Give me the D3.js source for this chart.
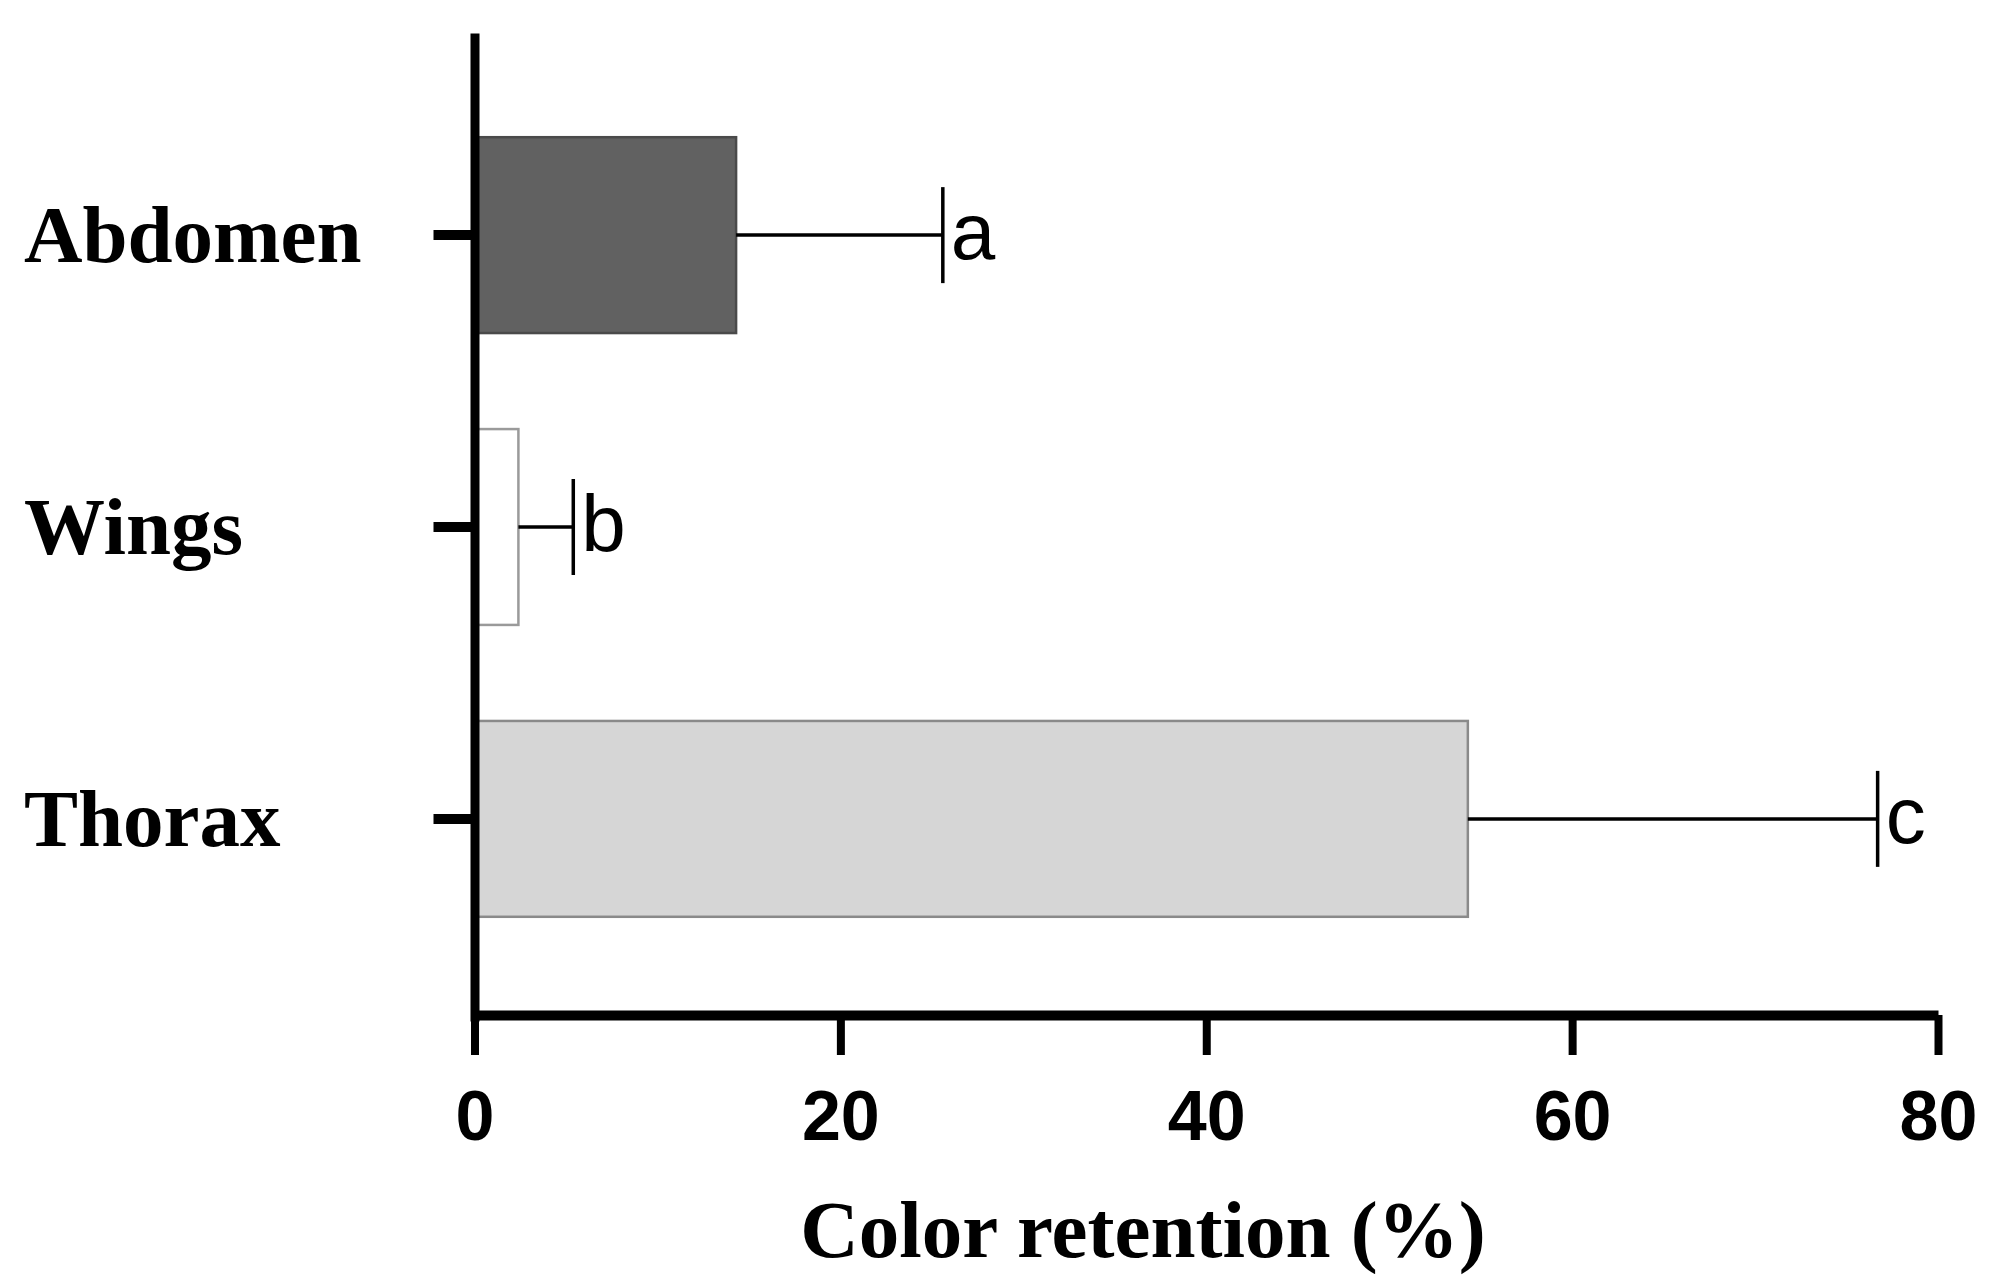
<!DOCTYPE html>
<html>
<head>
<meta charset="utf-8">
<script src="https://cdn.jsdelivr.net/npm/d3@7"></script>
<style>
  body { margin: 0; background: #fff; }
  svg { display: block; }
</style>
</head>
<body>
<svg id="chart"></svg>
<script>
var width = 1998, height = 1286;

// data
var categories = ["Abdomen", "Wings", "Thorax"];
var means = [14.3, 2.4, 54.3];
var sds = [11.3, 3.0, 22.4];
var letters = ["a", "b", "c"];
var fills = ["#616161", "#ffffff", "#d6d6d6"];
var strokes = ["#4a4a4a", "#9a9a9a", "#8a8a8a"];
var xTicks = [0, 20, 40, 60, 80];

var x0 = 474.5, x1 = 1938, yAxisTop = 33, xAxisY = 1015;

var svg = d3.select("#chart")
  .attr("width", width)
  .attr("height", height);

var x = d3.scaleLinear().domain([0, 80]).range([x0, x1]);
var y = d3.scaleBand().domain(categories)
  .range([yAxisTop, 1021])
  .paddingInner(0.329)
  .paddingOuter(0.357);

var rows = categories.map(function(c, i) {
  return { cat: c, mean: means[i], sd: sds[i], letter: letters[i], fill: fills[i], stroke: strokes[i] };
});

// bars
svg.selectAll("rect.bar")
  .data(rows)
  .enter()
  .append("rect")
  .attr("class", "bar")
  .attr("x", x(0))
  .attr("y", function(d) { return y(d.cat); })
  .attr("width", function(d) { return x(d.mean) - x(0); })
  .attr("height", y.bandwidth())
  .attr("fill", function(d) { return d.fill; })
  .attr("stroke", function(d) { return d.stroke; })
  .attr("stroke-width", 2.5);

// error bars (one-sided)
var err = svg.selectAll("g.err")
  .data(rows)
  .enter()
  .append("g")
  .attr("class", "err")
  .attr("stroke", "#000")
  .attr("stroke-width", 3.5);

err.append("line")
  .attr("x1", function(d) { return x(d.mean); })
  .attr("x2", function(d) { return x(d.mean + d.sd); })
  .attr("y1", function(d) { return y(d.cat) + y.bandwidth() / 2; })
  .attr("y2", function(d) { return y(d.cat) + y.bandwidth() / 2; });

err.append("line")
  .attr("x1", function(d) { return x(d.mean + d.sd); })
  .attr("x2", function(d) { return x(d.mean + d.sd); })
  .attr("y1", function(d) { return y(d.cat) + y.bandwidth() / 2 - 48; })
  .attr("y2", function(d) { return y(d.cat) + y.bandwidth() / 2 + 48; });

// significance letters
svg.selectAll("text.letter")
  .data(rows)
  .enter()
  .append("text")
  .attr("class", "letter")
  .attr("x", function(d) { return x(d.mean + d.sd) + 8; })
  .attr("y", function(d) { return y(d.cat) + y.bandwidth() / 2; })
  .attr("dy", "0.3em")
  .attr("font-family", "'Liberation Sans', Arial, sans-serif")
  .attr("font-size", 80)
  .attr("fill", "#000")
  .text(function(d) { return d.letter; });

// x axis
var xAxis = svg.append("g")
  .attr("transform", "translate(0," + xAxisY + ")")
  .call(d3.axisBottom(x).tickValues(xTicks).tickSize(40).tickSizeOuter(0));

xAxis.select(".domain").attr("stroke", "#000").attr("stroke-width", 10);
xAxis.selectAll(".tick line").attr("stroke", "#000").attr("stroke-width", 8);
xAxis.selectAll(".tick text")
  .attr("y", 100)
  .attr("dy", "0.35em")
  .attr("font-family", "'Liberation Sans', Arial, sans-serif")
  .attr("font-weight", "bold")
  .attr("font-size", 70)
  .attr("fill", "#000");

// y axis
var yAxis = svg.append("g")
  .attr("transform", "translate(" + x0 + ",0)")
  .call(d3.axisLeft(y).tickSize(41).tickSizeOuter(0));

yAxis.select(".domain").attr("stroke", "#000").attr("stroke-width", 9);
yAxis.selectAll(".tick line").attr("stroke", "#000").attr("stroke-width", 10);
yAxis.selectAll(".tick text")
  .attr("x", 24 - x0)
  .attr("dy", "0.33em")
  .attr("text-anchor", "start")
  .attr("font-family", "'Liberation Serif', 'Times New Roman', serif")
  .attr("font-weight", "bold")
  .attr("font-size", 81)
  .attr("fill", "#000");

// axis title
svg.append("text")
  .attr("x", 1143)
  .attr("y", 1257)
  .attr("text-anchor", "middle")
  .attr("font-family", "'Liberation Serif', 'Times New Roman', serif")
  .attr("font-weight", "bold")
  .attr("font-size", 81)
  .attr("fill", "#000")
  .text("Color retention (%)");
</script>
</body>
</html>
